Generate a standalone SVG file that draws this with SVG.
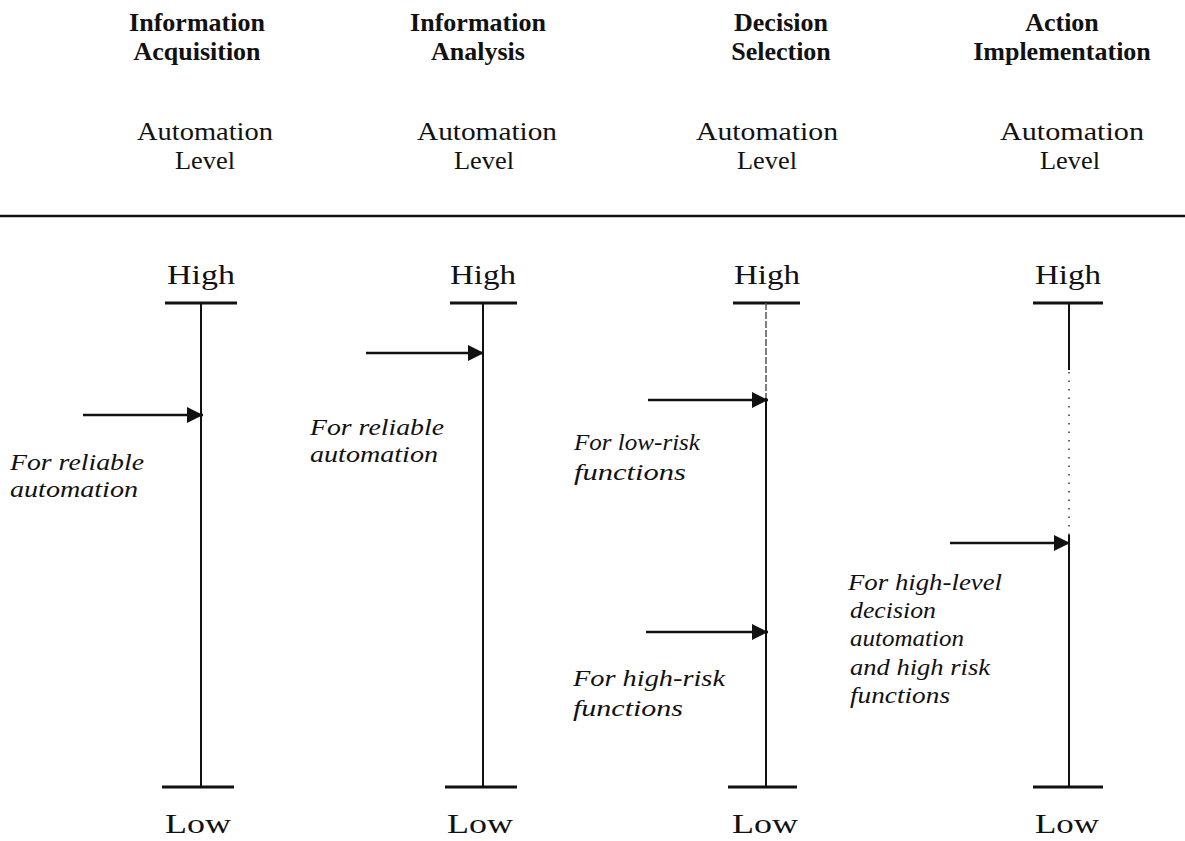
<svg xmlns="http://www.w3.org/2000/svg" width="1185" height="841" viewBox="0 0 1185 841">
  <style>
    .hdr { font-family: "Liberation Serif", "Times New Roman", serif; font-weight: bold; font-size: 26px; fill: #111; text-anchor: middle; }
    .lvl { font-family: "Liberation Serif", "Times New Roman", serif; font-size: 25px; fill: #111; text-anchor: middle; }
    .hl { font-family: "Liberation Serif", "Times New Roman", serif; font-size: 27px; fill: #111; text-anchor: middle; }
    .lab { font-family: "Liberation Serif", "Times New Roman", serif; font-style: italic; font-size: 24px; fill: #111; }
    .axis { stroke: #111; stroke-width: 2; fill: none; }
    .tick { stroke: #111; stroke-width: 3; fill: none; }
    .faint { stroke: #555; stroke-width: 1.5; fill: none; stroke-dasharray: 7 2; }
    .dots { stroke: #333; stroke-width: 1.5; fill: none; stroke-dasharray: 1.5 7; }
    .arrow { stroke: #111; stroke-width: 2.5; fill: none; marker-end: url(#ah); }
  </style>
  <defs>
    <marker id="ah" viewBox="0 0 10 10" refX="10" refY="5" markerUnits="userSpaceOnUse" markerWidth="19" markerHeight="16" orient="auto">
      <path d="M0,0 L10,5 L0,10 Z" fill="#111"/>
    </marker>
  </defs>
  <rect width="1185" height="841" fill="#fff"/>

  <line x1="0" y1="216" x2="1185" y2="216" stroke="#111" stroke-width="2.5"/>

  <g id="col-acquisition">
    <text class="hdr" x="197" y="31">Information</text>
    <text class="hdr" x="197" y="60">Acquisition</text>
    <text class="lvl" x="205" y="140" textLength="136" lengthAdjust="spacingAndGlyphs">Automation</text>
    <text class="lvl" x="205" y="169" textLength="60" lengthAdjust="spacingAndGlyphs">Level</text>
    <text class="hl" x="201" y="284" textLength="68" lengthAdjust="spacingAndGlyphs">High</text>
    <line class="tick" x1="165" y1="303" x2="237" y2="303"/>
    <line class="axis" x1="201" y1="303" x2="201" y2="787"/>
    <line class="tick" x1="162" y1="787" x2="234" y2="787"/>
    <text class="hl" x="198" y="833" textLength="66" lengthAdjust="spacingAndGlyphs">Low</text>
    <text class="lab" x="10" y="470" textLength="134" lengthAdjust="spacingAndGlyphs">For reliable</text>
    <text class="lab" x="10" y="497" textLength="128" lengthAdjust="spacingAndGlyphs">automation</text>
  </g>

  <g id="col-analysis">
    <text class="hdr" x="478" y="31">Information</text>
    <text class="hdr" x="478" y="60">Analysis</text>
    <text class="lvl" x="487" y="140" textLength="140" lengthAdjust="spacingAndGlyphs">Automation</text>
    <text class="lvl" x="484" y="169" textLength="60" lengthAdjust="spacingAndGlyphs">Level</text>
    <text class="hl" x="483" y="284" textLength="66" lengthAdjust="spacingAndGlyphs">High</text>
    <line class="tick" x1="450" y1="303" x2="517" y2="303"/>
    <line class="axis" x1="483" y1="303" x2="483" y2="787"/>
    <line class="tick" x1="445" y1="787" x2="517" y2="787"/>
    <text class="hl" x="480" y="833" textLength="66" lengthAdjust="spacingAndGlyphs">Low</text>
    <text class="lab" x="310" y="435" textLength="134" lengthAdjust="spacingAndGlyphs">For reliable</text>
    <text class="lab" x="310" y="462" textLength="128" lengthAdjust="spacingAndGlyphs">automation</text>
  </g>

  <g id="col-decision">
    <text class="hdr" x="781" y="31">Decision</text>
    <text class="hdr" x="781" y="60">Selection</text>
    <text class="lvl" x="767" y="140" textLength="142" lengthAdjust="spacingAndGlyphs">Automation</text>
    <text class="lvl" x="767" y="169" textLength="60" lengthAdjust="spacingAndGlyphs">Level</text>
    <text class="hl" x="767" y="284" textLength="66" lengthAdjust="spacingAndGlyphs">High</text>
    <line class="tick" x1="733" y1="303" x2="800" y2="303"/>
    <line class="faint" x1="766" y1="303" x2="766" y2="398"/>
    <line class="axis" x1="766" y1="398" x2="766" y2="787"/>
    <line class="tick" x1="728" y1="787" x2="797" y2="787" stroke-width="4"/>
    <text class="hl" x="765" y="833" textLength="66" lengthAdjust="spacingAndGlyphs">Low</text>
    <text class="lab" x="574" y="450" textLength="126" lengthAdjust="spacingAndGlyphs">For low-risk</text>
    <text class="lab" x="574" y="480" textLength="112" lengthAdjust="spacingAndGlyphs">functions</text>
    <text class="lab" x="573" y="686" textLength="152" lengthAdjust="spacingAndGlyphs">For high-risk</text>
    <text class="lab" x="573" y="716" textLength="110" lengthAdjust="spacingAndGlyphs">functions</text>
  </g>

  <g id="col-action">
    <text class="hdr" x="1062" y="31">Action</text>
    <text class="hdr" x="1062" y="60">Implementation</text>
    <text class="lvl" x="1072" y="140" textLength="144" lengthAdjust="spacingAndGlyphs">Automation</text>
    <text class="lvl" x="1070" y="169" textLength="60" lengthAdjust="spacingAndGlyphs">Level</text>
    <text class="hl" x="1068" y="284" textLength="66" lengthAdjust="spacingAndGlyphs">High</text>
    <line class="tick" x1="1033" y1="303" x2="1103" y2="303"/>
    <line class="axis" x1="1069" y1="303" x2="1069" y2="370"/>
    <line class="dots" x1="1069" y1="372" x2="1069" y2="535"/>
    <line class="axis" x1="1069" y1="535" x2="1069" y2="787"/>
    <line class="tick" x1="1033" y1="787" x2="1103" y2="787"/>
    <text class="hl" x="1067" y="833" textLength="64" lengthAdjust="spacingAndGlyphs">Low</text>
    <text class="lab" x="848" y="590" textLength="154" lengthAdjust="spacingAndGlyphs">For high-level</text>
    <text class="lab" x="850" y="618" textLength="86" lengthAdjust="spacingAndGlyphs">decision</text>
    <text class="lab" x="850" y="646" textLength="114" lengthAdjust="spacingAndGlyphs">automation</text>
    <text class="lab" x="850" y="675" textLength="140" lengthAdjust="spacingAndGlyphs">and high risk</text>
    <text class="lab" x="850" y="703" textLength="100" lengthAdjust="spacingAndGlyphs">functions</text>
  </g>

  <g id="connectors">
    <line class="arrow" x1="83" y1="415" x2="203" y2="415"/>
    <line class="arrow" x1="366" y1="353" x2="484" y2="353"/>
    <line class="arrow" x1="648" y1="400" x2="768" y2="400"/>
    <line class="arrow" x1="646" y1="632" x2="768" y2="632"/>
    <line class="arrow" x1="950" y1="543" x2="1070" y2="543"/>
  </g>
</svg>
